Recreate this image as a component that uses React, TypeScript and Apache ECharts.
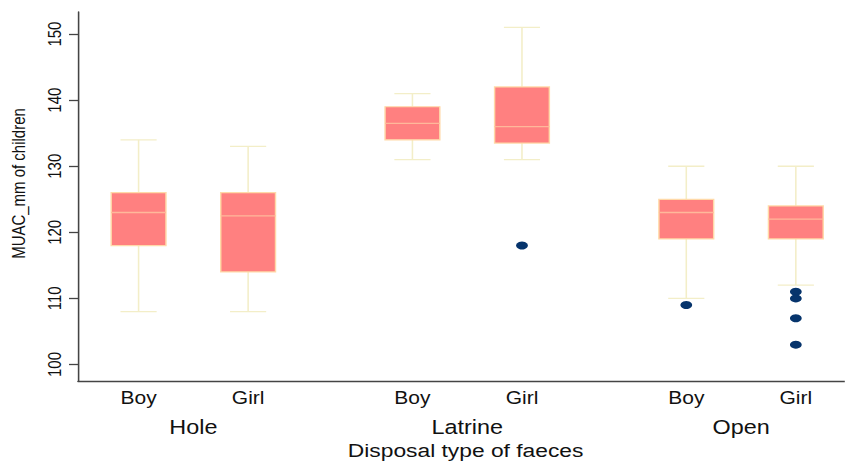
import { useEffect, useRef } from "react";
import * as echarts from "echarts";

// Layout: two sexes within each faeces disposal type
const groups = ["Hole", "Latrine", "Open"];
const groupCenters = [0.5, 3, 5.5];
const sexes = ["Boy", "Girl", "Boy", "Girl", "Boy", "Girl"];
const boxPositions = [0, 1, 2.5, 3.5, 5, 6];

// MUAC (mm) box statistics: [lower whisker, Q1, median, Q3, upper whisker]
const boxStats = [
  [108, 118, 123, 126, 134],
  [108, 114, 122.5, 126, 133],
  [131, 134, 136.5, 139, 141],
  [131, 133.5, 136, 142, 151],
  [110, 119, 123, 125, 130],
  [112, 119, 122, 124, 130],
];

// Outside values: index of the box they belong to, and the value
const outlierBox = [3, 4, 5, 5, 5, 5];
const outlierValues = [118, 109, 111, 110, 107, 103];

const yTicks = [100, 110, 120, 130, 140, 150];

const STRETCH = 1.2;
const WIDTH = 845;
const HEIGHT = 465;
const BOX_WIDTH = 0.5;
const CAP_WIDTH = 0.33;
const FONT = 'Arial, "Liberation Sans", Helvetica, sans-serif';

const BOX_FILL = "#ff8080";
const BOX_EDGE = "#ffd9a8";
const MEDIAN = "#ffb89a";
const WHISKER = "#f3eec8";
const DOT = "#06346c";

export default function App() {
  const ref = useRef<HTMLDivElement>(null);

  useEffect(() => {
    if (!ref.current) return;
    const chart = echarts.init(ref.current, null, { renderer: "svg" });

    const boxData = boxPositions.map((p, i) => [p, ...boxStats[i]]);
    const outlierData = outlierValues.map((v, i) => [boxPositions[outlierBox[i]], v]);

    const labelFor = (list: string[], at: number[]) => (v: number) => {
      const i = at.findIndex((p) => Math.abs(p - v) < 1e-6);
      return i >= 0 ? list[i] : "";
    };

    chart.setOption({
      animation: false,
      backgroundColor: "#ffffff",
      grid: { left: 64.17, right: 0, top: 12, bottom: 79, containLabel: false },
      xAxis: [
        {
          type: "value",
          position: "bottom",
          min: -0.553,
          max: 6.447,
          splitLine: { show: false },
          axisTick: { show: false },
          axisLine: { show: true, onZero: false, lineStyle: { color: "#444", width: 1.4 } },
          axisLabel: {
            customValues: boxPositions,
            formatter: labelFor(sexes, boxPositions),
            margin: 8,
            fontSize: 17.5,
            fontFamily: FONT,
            color: "#111",
          },
          name: "Disposal type of faeces",
          nameLocation: "middle",
          nameGap: 60,
          nameTextStyle: {
            fontSize: 19,
            fontFamily: FONT,
            color: "#111",
            padding: [0, 0, 0, 7],
          },
        },
        {
          type: "value",
          position: "bottom",
          min: -0.553,
          max: 6.447,
          splitLine: { show: false },
          axisTick: { show: false },
          axisLine: { show: false, onZero: false },
          axisLabel: {
            customValues: groupCenters,
            formatter: labelFor(groups, groupCenters),
            margin: 37,
            fontSize: 19.5,
            fontFamily: FONT,
            color: "#111",
          },
        },
      ],
      yAxis: {
        type: "value",
        min: 97.5,
        max: 153.34,
        splitLine: { show: false },
        axisLine: { show: true, onZero: false, lineStyle: { color: "#444", width: 1.3 } },
        axisTick: {
          show: true,
          customValues: yTicks,
          length: 7.5,
          lineStyle: { color: "#444", width: 1.3 },
        },
        axisLabel: {
          customValues: yTicks,
          rotate: 90,
          margin: 12,
          fontSize: 15,
          fontFamily: FONT,
          color: "#111",
        },
        name: "MUAC_mm of children",
        nameLocation: "middle",
        nameGap: 42,
        nameRotate: 90,
        nameTextStyle: {
          fontSize: 15,
          fontFamily: FONT,
          color: "#111",
          padding: [0, 0, 0, 26],
        },
      },
      series: [
        {
          type: "custom",
          xAxisIndex: 0,
          data: boxData,
          encode: { x: 0, y: [1, 2, 3, 4, 5] },
          renderItem: (_params: any, api: any) => {
            const x = api.value(0);
            const lo = api.coord([x, api.value(1)]);
            const q1 = api.coord([x, api.value(2)]);
            const med = api.coord([x, api.value(3)]);
            const q3 = api.coord([x, api.value(4)]);
            const hi = api.coord([x, api.value(5)]);
            const halfBox = api.size([BOX_WIDTH, 0])[0] / 2;
            const halfCap = api.size([CAP_WIDTH, 0])[0] / 2;
            const cx = q1[0];
            const wStyle = { stroke: WHISKER, lineWidth: 1.3 };
            return {
              type: "group",
              children: [
                { type: "line", shape: { x1: cx, y1: hi[1], x2: cx, y2: q3[1] }, style: wStyle },
                { type: "line", shape: { x1: cx, y1: q1[1], x2: cx, y2: lo[1] }, style: wStyle },
                { type: "line", shape: { x1: cx - halfCap, y1: hi[1], x2: cx + halfCap, y2: hi[1] }, style: wStyle },
                { type: "line", shape: { x1: cx - halfCap, y1: lo[1], x2: cx + halfCap, y2: lo[1] }, style: wStyle },
                {
                  type: "rect",
                  shape: { x: cx - halfBox, y: q3[1], width: halfBox * 2, height: q1[1] - q3[1] },
                  style: { fill: BOX_FILL, stroke: BOX_EDGE, lineWidth: 1.2 },
                },
                {
                  type: "line",
                  shape: { x1: cx - halfBox, y1: med[1], x2: cx + halfBox, y2: med[1] },
                  style: { stroke: MEDIAN, lineWidth: 1.3 },
                },
              ],
            };
          },
        },
        {
          type: "scatter",
          xAxisIndex: 0,
          data: outlierData,
          symbol: "circle",
          symbolSize: [9.8, 8],
          itemStyle: { color: DOT, opacity: 1 },
        },
      ],
    });

    return () => chart.dispose();
  }, []);

  return (
    <div
      ref={ref}
      style={{
        position: "absolute",
        left: 0,
        top: 0,
        width: WIDTH / STRETCH,
        height: HEIGHT,
        transform: `scaleX(${STRETCH})`,
        transformOrigin: "0 0",
      }}
    />
  );
}
